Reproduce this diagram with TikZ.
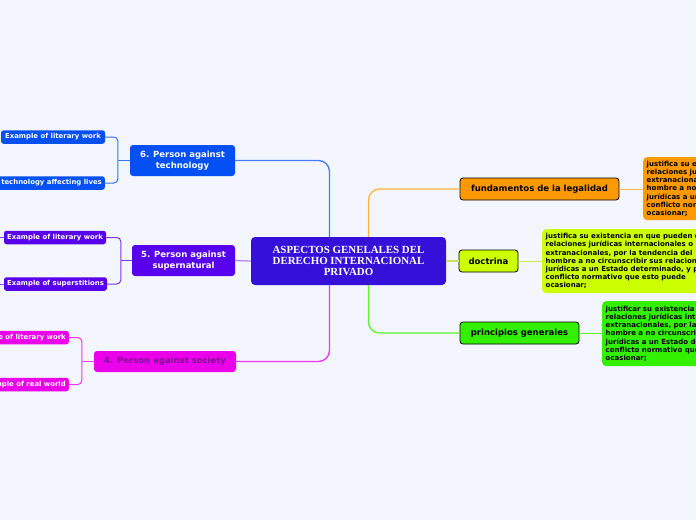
\documentclass[tikz,border=0pt]{standalone}
\usepackage{fontspec}
\setmainfont{DejaVu Sans}
\newfontfamily\titlefont{Liberation Serif}
\usetikzlibrary{positioning,calc}

\definecolor{bgpaper}{RGB}{243,246,253}
\definecolor{rootblue}{RGB}{52,16,216}
\definecolor{techblue}{RGB}{5,80,245}
\definecolor{superpurple}{RGB}{88,0,238}
\definecolor{socmagenta}{RGB}{236,0,236}
\definecolor{socink}{RGB}{128,20,150}
\definecolor{legorange}{RGB}{255,153,0}
\definecolor{doclime}{RGB}{204,255,0}
\definecolor{prgreen}{RGB}{51,240,0}

\begin{document}
\begin{tikzpicture}[x=1pt, y=-1pt,
    topic/.style={rounded corners=3pt, inner sep=0pt, align=center, text=white,
      font=\bfseries\fontsize{8.5}{10.5}\selectfont},
    leaf/.style={rounded corners=2.5pt, inner sep=3pt, minimum height=13.5pt, text=white,
      font=\bfseries\fontsize{6.9}{8}\selectfont},
    rtopic/.style={draw=black, line width=0.8pt, rounded corners=3pt, inner sep=0pt,
      minimum height=22pt, font=\bfseries\fontsize{8.5}{10}\selectfont},
    note/.style={rounded corners=4pt, inner sep=3.5pt, align=left, anchor=north west,
      font=\bfseries\fontsize{7.0}{8.2}\selectfont},
    link/.style={line width=1.3pt, rounded corners=11pt},
    twig/.style={line width=1pt, rounded corners=4pt}]

\useasboundingbox (0,0) rectangle (696,520);
\fill[bgpaper] (0,0) rectangle (696,520);
\clip (0,0) rectangle (696,520);

% central topic
\node[fill=rootblue, rounded corners=4pt, minimum width=195pt, minimum height=48pt, text=white,
  align=center, font=\titlefont\bfseries\fontsize{10.9}{11.2}\selectfont] (main) at (348.5,261)
  {ASPECTOS GENELALES DEL\\DERECHO INTERNACIONAL\\PRIVADO};

% right side
\node[rtopic, fill=legorange, minimum width=159pt] (fund) at (539.5,189) {fundamentos de la legalidad};
\node[rtopic, fill=doclime, minimum width=59pt] (doct) at (488.5,261) {doctrina};
\node[rtopic, fill=prgreen, minimum width=119pt] (princ) at (519.5,333) {principios generales};

\node[note, fill=legorange, minimum height=63pt] (nfund) at (643,157)
  {justifica su existencia en que pueden darse\\relaciones jurídicas internacionales o\\extranacionales, por la tendencia del\\hombre a no circunscribir sus relaciones\\jurídicas a un Estado determinado, y por el\\conflicto normativo que esto puede\\ocasionar;};
\node[note, fill=doclime, minimum height=64pt] (ndoct) at (542,229)
  {justifica su existencia en que pueden darse\\relaciones jurídicas internacionales o\\extranacionales, por la tendencia del\\hombre a no circunscribir sus relaciones\\jurídicas a un Estado determinado, y por el\\conflicto normativo que esto puede\\ocasionar;};
\node[note, fill=prgreen, minimum height=65pt] (nprinc) at (602,301)
  {justificar su existencia en que pueden darse\\relaciones jurídicas internacionales o\\extranacionales, por la tendencia del\\hombre a no circunscribir sus relaciones\\jurídicas a un Estado determinado, y por el\\conflicto normativo que esto puede\\ocasionar;};

\draw[link, legorange!75] (fund.west) -| ([xshift=20pt]main.north);
\draw[link, doclime!80!black!60] (doct.west) -- (main.east);
\draw[link, prgreen!80] (princ.west) -| ([xshift=20pt]main.south);
\draw[line width=1pt, legorange!70] (fund.east) -- (nfund.west |- fund.east);
\draw[line width=1pt, doclime!90!black!70] (doct.east) -- (ndoct.west |- doct.east);
\draw[line width=1pt, prgreen!80] (princ.east) -- (nprinc.west |- princ.east);

% left side: technology
\node[topic, fill=techblue, minimum width=105pt, minimum height=31pt] (tech6) at (182.5,160.5)
  {6. Person against\\technology};
\node[leaf, fill=techblue, minimum width=104pt] (lit6) at (53,137) {Example of literary work};
\node[leaf, fill=techblue, anchor=east] (life6) at (105,183) {Example of technology affecting lives};
\coordinate (j6) at ([xshift=-12pt]tech6.west);
\draw[twig, techblue!80] (lit6.east) -| (j6);
\draw[twig, techblue!80] (life6.east) -| (j6);
\draw[twig, techblue!80] (j6) -- (tech6.west);
\draw[link, techblue!75] (tech6.east) -| ([xshift=-19pt]main.north);

% supernatural
\node[topic, fill=superpurple, minimum width=103pt, minimum height=31pt] (super5) at (183.5,260.5)
  {5. Person against\\supernatural};
\node[leaf, fill=superpurple, minimum width=102pt] (lit5) at (55,237.5) {Example of literary work};
\node[leaf, fill=superpurple, minimum width=103pt] (sup5) at (55.5,284) {Example of superstitions};
\coordinate (j5) at ([xshift=-11pt]super5.west);
\coordinate (out5a) at (-10,237.5);
\coordinate (out5b) at (-10,284);
\draw[twig, superpurple!80] (lit5.east) -| (j5);
\draw[twig, superpurple!80] (sup5.east) -| (j5);
\draw[twig, superpurple!80] (j5) -- (super5.west);
\draw[twig, superpurple!70] (lit5.west) -- (out5a);
\draw[twig, superpurple!70] (sup5.west) -- (out5b);
\draw[link, superpurple!45] (super5.east) -- (main.west);

% society
\node[topic, fill=socmagenta, text=socink, minimum width=142pt, minimum height=21pt] (soc4) at (165,361.5)
  {4. Person against society};
\node[leaf, fill=socmagenta, anchor=east] (lit4) at (69,337.5) {Example of literary work};
\node[leaf, fill=socmagenta, anchor=east] (real4) at (69,384.5) {Example of real world};
\coordinate (j4) at ([xshift=-12pt]soc4.west);
\draw[twig, socmagenta!80] (lit4.east) -| (j4);
\draw[twig, socmagenta!80] (real4.east) -| (j4);
\draw[twig, socmagenta!80] (j4) -- (soc4.west);
\draw[link, socmagenta!80] (soc4.east) -| ([xshift=-19pt]main.south);
\end{tikzpicture}
\end{document}
